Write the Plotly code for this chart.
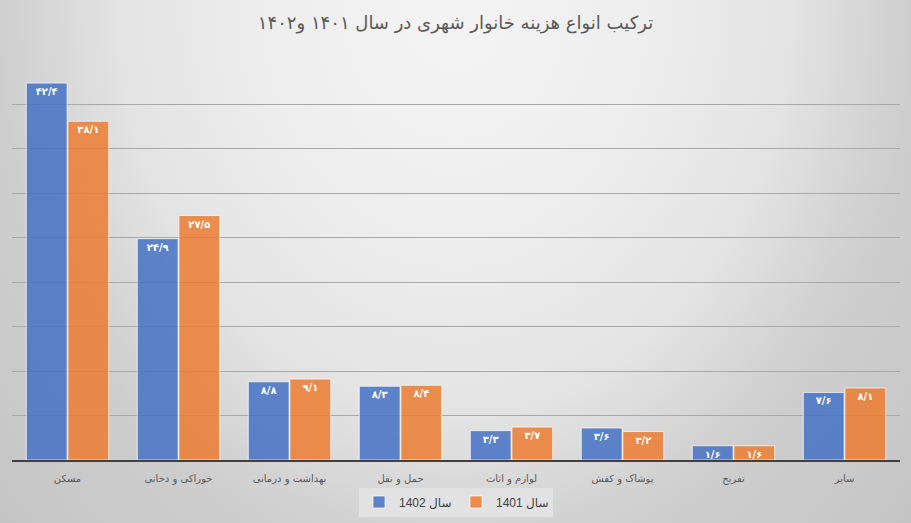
import base64
import plotly.graph_objects as go

categories = ["مسکن", "خوراکی و دخانی", "بهداشت و درمانی", "حمل و نقل",
              "لوازم و اثاث", "پوشاک و کفش", "تفریح", "سایر"]
values_1402 = [42.4, 24.9, 8.8, 8.3, 3.3, 3.6, 1.6, 7.6]
values_1401 = [38.1, 27.5, 9.1, 8.4, 3.7, 3.2, 1.6, 8.1]
series_names = ["سال 1402", "سال 1401"]
title_text = "ترکیب انواع هزینه خانوار شهری در سال ۱۴۰۱ و۱۴۰۲"

FA = str.maketrans("0123456789.", "۰۱۲۳۴۵۶۷۸۹/")


def fa(v):
    return f"{v:.1f}".translate(FA)


W, H = 911, 523
L, R, T, B = 12, 11, 60, 63

svg = (
    f"<svg xmlns='http://www.w3.org/2000/svg' width='{W}' height='{H}' viewBox='0 0 {W} {H}' preserveAspectRatio='none'>"
    "<defs><radialGradient id='g' gradientUnits='userSpaceOnUse' cx='0' cy='0' r='1' "
    "gradientTransform='translate(455,0) scale(640,790)'>"
    "<stop offset='0' stop-color='#f4f4f4'/>"
    "<stop offset='0.3' stop-color='#eeeeee'/>"
    "<stop offset='0.53' stop-color='#e3e3e3'/>"
    "<stop offset='0.66' stop-color='#d4d4d4'/>"
    "<stop offset='0.72' stop-color='#cecece'/>"
    "<stop offset='1' stop-color='#c4c4c4'/>"
    "</radialGradient></defs>"
    f"<rect x='0' y='0' width='{W}' height='{H}' fill='url(#g)'/></svg>"
)
src = "data:image/svg+xml;base64," + base64.b64encode(svg.encode()).decode()

pw, ph = W - L - R, H - T - B

fig = go.Figure()
colors = ["rgba(68,114,196,0.85)", "rgba(237,125,49,0.85)"]
for name, vals, col in zip(series_names, [values_1402, values_1401], colors):
    fig.add_trace(go.Bar(
        x=categories, y=vals, name=name,
        marker=dict(color=col, line=dict(color="rgba(255,255,255,0.7)", width=1)),
        text=[fa(v) for v in vals], textposition="inside", insidetextanchor="end",
        constraintext="none",
        textfont=dict(color="white", size=10, family="DejaVu Sans", weight="bold"),
        textangle=0, hoverinfo="skip",
    ))

fig.update_layout(
    width=W, height=H, margin=dict(l=L, r=R, t=T, b=B, autoexpand=False),
    paper_bgcolor="#d9d9d9", plot_bgcolor="rgba(0,0,0,0)",
    barmode="group", bargap=0.25, bargroupgap=0.02,
    title=dict(text=title_text, x=0.5, xanchor="center", y=1 - 23 / H, yanchor="middle",
               font=dict(size=18, color="#595959", family="DejaVu Sans")),
    font=dict(family="DejaVu Sans", color="#595959"),
    showlegend=True,
    legend=dict(orientation="h", x=0.5, xanchor="center", y=-(502 - 460) / ph, yanchor="middle",
                bgcolor="#e2e2e2", font=dict(size=12, color="#404040", family="Liberation Sans, DejaVu Sans"),
                traceorder="normal", itemwidth=30, entrywidth=52, entrywidthmode="pixels"),
    images=[dict(source=src, xref="paper", yref="paper", x=-L / pw, y=1 + T / ph,
                 sizex=W / pw, sizey=H / ph, sizing="stretch", layer="below", xanchor="left", yanchor="top")],
)
fig.update_xaxes(showline=True, linecolor="#404040", linewidth=2, ticks="",
                 tickfont=dict(size=10, color="#595959"), showgrid=False, ticklabelstandoff=8)
fig.update_yaxes(range=[0, 45], dtick=5, showgrid=True, gridcolor="#a8a8a8", gridwidth=1,
                 showticklabels=False, zeroline=False, showline=False)

fig.write_html("out.html")
